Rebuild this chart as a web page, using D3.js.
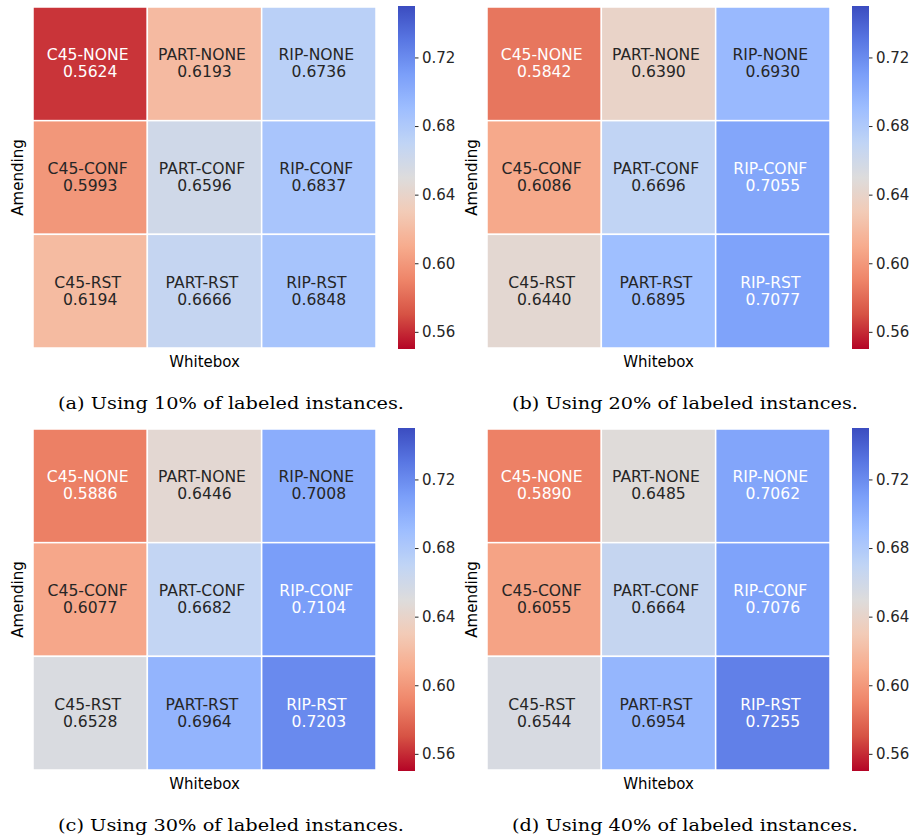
<!DOCTYPE html>
<html>
<head>
<meta charset="utf-8">
<script src="https://cdn.jsdelivr.net/npm/d3@7"></script>
<style>
  body { margin: 0; background: #fff; }
  svg { display: block; }
</style>
</head>
<body>
<div id="chart"></div>
<script>
// 数据
const whitebox = ['C45', 'PART', 'RIP']
const amending = ['NONE', 'CONF', 'RST']
const captions = [
  '(a) Using 10% of labeled instances.',
  '(b) Using 20% of labeled instances.',
  '(c) Using 30% of labeled instances.',
  '(d) Using 40% of labeled instances.'
]
const valuesA = [[0.5624, 0.6193, 0.6736], [0.5993, 0.6596, 0.6837], [0.6194, 0.6666, 0.6848]]
const valuesB = [[0.5842, 0.6390, 0.6930], [0.6086, 0.6696, 0.7055], [0.6440, 0.6895, 0.7077]]
const valuesC = [[0.5886, 0.6446, 0.7008], [0.6077, 0.6682, 0.7104], [0.6528, 0.6964, 0.7203]]
const valuesD = [[0.5890, 0.6485, 0.7062], [0.6055, 0.6664, 0.7076], [0.6544, 0.6954, 0.7255]]
const cbTicks = [0.56, 0.60, 0.64, 0.68, 0.72]
const vmin = 0.55
const vmax = 0.75

const width = 916
const height = 840

// coolwarm 色表 (反转: 低值为红色)
const coolwarm = ['#3b4cc0', '#5977e3', '#7b9ff9', '#9ebeff', '#c0d4f5', '#dddcdc',
  '#f2cbb7', '#f7ac8e', '#ee8468', '#d65244', '#b40426']
const cw = d3.scaleLinear()
  .domain(d3.range(coolwarm.length).map(i => i / (coolwarm.length - 1)))
  .range(coolwarm)
  .interpolate(d3.interpolateRgb)
const norm = d3.scaleLinear().domain([vmin, vmax]).range([0, 1]).clamp(true)
const color = v => cw(1 - norm(v))

// seaborn 的文字颜色规则
function luminance(c) {
  const rgb = d3.rgb(c)
  const f = x => {
    x = x / 255
    return x <= 0.03928 ? x / 12.92 : Math.pow((x + 0.055) / 1.055, 2.4)
  }
  return 0.2126 * f(rgb.r) + 0.7152 * f(rgb.g) + 0.0722 * f(rgb.b)
}

const svg = d3.select('#chart').append('svg')
  .attr('width', width)
  .attr('height', height)
  .style('font-family', '"DejaVu Sans", sans-serif')

const defs = svg.append('defs')
const grad = defs.append('linearGradient')
  .attr('id', 'cbgrad')
  .attr('x1', 0).attr('y1', 1).attr('x2', 0).attr('y2', 0)
d3.range(0, 1.0001, 0.02).forEach(t => {
  grad.append('stop')
    .attr('offset', t)
    .attr('stop-color', color(vmin + t * (vmax - vmin)))
})

const panels = [
  { values: valuesA, caption: captions[0], ox: 0, oy: 0 },
  { values: valuesB, caption: captions[1], ox: 454, oy: 0 },
  { values: valuesC, caption: captions[2], ox: 0, oy: 422 },
  { values: valuesD, caption: captions[3], ox: 454, oy: 422 }
]

panels.forEach(p => drawPanel(p))

function drawPanel(p) {
  const g = svg.append('g').attr('transform', `translate(${p.ox},${p.oy})`)
  const x0 = 33, y0 = 7, w = 343, h = 341

  const x = d3.scaleBand().domain(whitebox).range([x0, x0 + w])
  const y = d3.scaleBand().domain(amending).range([y0, y0 + h])

  const cells = []
  amending.forEach((r, i) => {
    whitebox.forEach((c, j) => {
      cells.push({ row: r, col: c, value: p.values[i][j] })
    })
  })

  const cell = g.append('g').selectAll('g')
    .data(cells)
    .join('g')

  cell.append('rect')
    .attr('x', d => x(d.col))
    .attr('y', d => y(d.row))
    .attr('width', x.bandwidth())
    .attr('height', y.bandwidth())
    .attr('fill', d => color(d.value))
    .attr('stroke', '#fff')
    .attr('stroke-width', 1.5)

  const txt = cell.append('text')
    .attr('text-anchor', 'middle')
    .attr('font-size', 15.6)
    .attr('fill', d => luminance(color(d.value)) > 0.408 ? '#262626' : '#ffffff')
  txt.append('tspan')
    .attr('x', d => x(d.col) + x.bandwidth() / 2 - 2.5)
    .attr('y', d => y(d.row) + y.bandwidth() / 2 - 3.6)
    .text(d => `${d.col}-${d.row}`)
  txt.append('tspan')
    .attr('x', d => x(d.col) + x.bandwidth() / 2)
    .attr('y', d => y(d.row) + y.bandwidth() / 2 + 13.6)
    .text(d => d.value.toFixed(4))

  // 轴标题
  g.append('text')
    .attr('x', x0 + w / 2)
    .attr('y', y0 + h + 19)
    .attr('text-anchor', 'middle')
    .attr('font-size', 15)
    .attr('fill', '#000')
    .text('Whitebox')

  g.append('text')
    .attr('transform', `translate(${x0 - 10},${y0 + h / 2}) rotate(-90)`)
    .attr('text-anchor', 'middle')
    .attr('font-size', 15)
    .attr('fill', '#000')
    .text('Amending')

  // 颜色条
  const cbX = 398, cbTop = 6, cbBottom = 349, cbW = 17
  g.append('rect')
    .attr('x', cbX)
    .attr('y', cbTop)
    .attr('width', cbW)
    .attr('height', cbBottom - cbTop)
    .attr('fill', 'url(#cbgrad)')

  const cbScale = d3.scaleLinear().domain([vmin, vmax]).range([cbBottom, cbTop])
  const axis = g.append('g')
    .attr('transform', `translate(${cbX + cbW},0)`)
    .call(d3.axisRight(cbScale).tickValues(cbTicks).tickFormat(d3.format('.2f')).tickSize(3.5).tickPadding(3.5))
  axis.select('.domain').remove()
  axis.selectAll('.tick line').attr('stroke', '#262626').attr('stroke-width', 1)
  axis.selectAll('.tick text')
    .attr('font-size', 15)
    .attr('font-family', '"DejaVu Sans", sans-serif')
    .attr('fill', '#262626')

  // 标题
  g.append('text')
    .attr('x', 231)
    .attr('y', 409)
    .attr('text-anchor', 'middle')
    .attr('font-family', '"DejaVu Serif", serif')
    .attr('font-size', 17.5)
    .attr('textLength', 346)
    .attr('lengthAdjust', 'spacingAndGlyphs')
    .attr('fill', '#000')
    .text(p.caption)
}
</script>
</body>
</html>
